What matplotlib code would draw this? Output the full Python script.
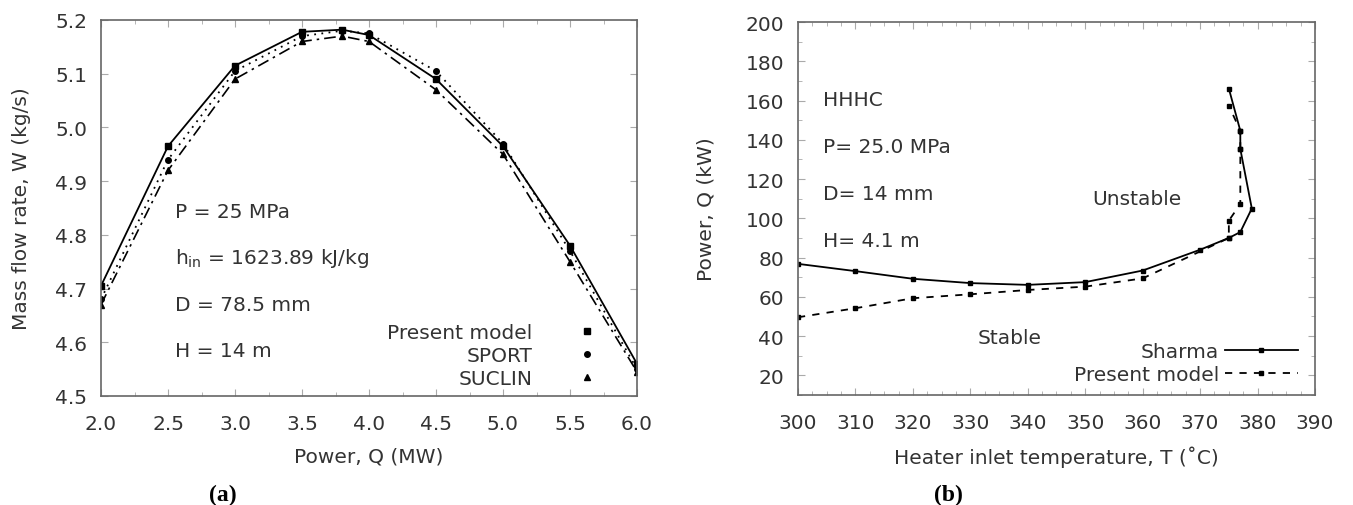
import matplotlib
matplotlib.use("Agg")
import matplotlib.pyplot as plt
from matplotlib.lines import Line2D
from matplotlib.ticker import MultipleLocator, FormatStrFormatter

plt.rcParams['font.family'] = ['DejaVu Sans']

# ---------------- data: panel (a) ----------------
power_mw = [2.0, 2.5, 3.0, 3.5, 3.8, 4.0, 4.5, 5.0, 5.5, 6.0]
w_present = [4.705, 4.965, 5.115, 5.178, 5.182, 5.172, 5.090, 4.965, 4.780, 4.560]
w_sport = [4.680, 4.940, 5.105, 5.170, 5.180, 5.175, 5.105, 4.970, 4.770, 4.550]
w_suclin = [4.670, 4.920, 5.090, 5.160, 5.170, 5.160, 5.070, 4.950, 4.750, 4.545]

a_texts = ["P = 25 MPa", r"h$_{\rm in}$ = 1623.89 kJ/kg", "D = 78.5 mm", "H = 14 m"]
a_series = ["Present model", "SPORT", "SUCLIN"]

# ---------------- data: panel (b) ----------------
t_sharma = [300, 310, 320, 330, 340, 350, 360, 370, 375, 377, 379, 377, 377, 375]
q_sharma = [76.8, 73.1, 69.2, 67.0, 66.1, 67.5, 73.4, 84.0, 90.0, 93.0, 105.0, 135.3, 144.6, 166.1]
t_present = [300, 310, 320, 330, 340, 350, 360, 375, 375, 377, 377, 377, 375]
q_present = [49.6, 54.2, 59.3, 61.3, 63.5, 65.2, 69.4, 90.0, 98.8, 107.3, 135.3, 144.6, 157.4]

b_texts = ["HHHC", "P= 25.0 MPa", "D= 14 mm", "H= 4.1 m"]
b_series = ["Sharma", "Present model"]

FS = 14.5
SP = '#666666'
TC = '#333333'

W, H = 1353, 506
fig = plt.figure(figsize=(W / 100, H / 100), dpi=100)

def frac(x0, x1, y0, y1):
    return [x0 / W, 1 - y1 / H, (x1 - x0) / W, (y1 - y0) / H]

ax1 = fig.add_axes(frac(101, 637, 21, 397))
ax2 = fig.add_axes(frac(798, 1315, 23, 396))

for ax in (ax1, ax2):
    for s in ax.spines.values():
        s.set_color(SP)
        s.set_linewidth(1.2)
    ax.tick_params(which='both', direction='in', top=True, right=True,
                   colors='#aaaaaa', labelcolor=TC, labelsize=FS)
    ax.tick_params(which='major', length=5, width=0.8)
    ax.tick_params(which='minor', length=3, width=0.6)

# ---------- panel (a) ----------
ax1.plot(power_mw, w_present, color='black', lw=1.3, ls='-')
ax1.plot(power_mw, w_sport, color='black', lw=1.3, ls=(0, (1, 3)))
ax1.plot(power_mw, w_suclin, color='black', lw=1.2, ls=(0, (7, 3, 1.5, 3)))
ax1.plot(power_mw, w_present, ls='none', marker='s', ms=4, color='black')
ax1.plot(power_mw, w_sport, ls='none', marker='o', ms=4, color='black')
ax1.plot(power_mw, w_suclin, ls='none', marker='^', ms=4.5, color='black')

ax1.set_xlim(2.0, 6.0)
ax1.set_ylim(4.5, 5.2)
ax1.xaxis.set_major_locator(MultipleLocator(0.5))
ax1.xaxis.set_minor_locator(MultipleLocator(0.25))
ax1.yaxis.set_major_locator(MultipleLocator(0.1))
ax1.xaxis.set_major_formatter(FormatStrFormatter('%.1f'))
ax1.yaxis.set_major_formatter(FormatStrFormatter('%.1f'))
ax1.tick_params(axis='y', pad=10)
ax1.tick_params(axis='x', pad=13)

ax1.set_xlabel("Power, Q (MW)", fontsize=FS, color=TC)
ax1.set_ylabel("Mass flow rate, W (kg/s)", fontsize=FS, color=TC)
ax1.xaxis.label.set_va('center')
ax1.yaxis.label.set_va('center')
ax1.xaxis.set_label_coords(0.5, -(457 - 397) / 376)
ax1.yaxis.set_label_coords(-(101 - 22) / 536, 0.5)

a_ys = [4.844, 4.757, 4.670, 4.584]
for txt, yv in zip(a_texts, a_ys):
    ax1.text(2.55, yv, txt, fontsize=FS, color=TC, ha='left', va='center')

handles_a = [Line2D([], [], ls='none', marker='s', ms=4, color='black'),
             Line2D([], [], ls='none', marker='o', ms=4, color='black'),
             Line2D([], [], ls='none', marker='^', ms=4.5, color='black')]
leg1 = ax1.legend(handles_a, a_series, loc='lower right', bbox_to_anchor=(0.985, -0.012),
                  frameon=False, markerfirst=False, fontsize=FS, handlelength=3.0,
                  handletextpad=1.2, labelspacing=0.2, borderaxespad=0.3,
                  borderpad=0.3)
for t in leg1.get_texts():
    t.set_color(TC)

# ---------- panel (b) ----------
ax2.plot(t_sharma, q_sharma, color='black', lw=1.3, ls='-', marker='s', ms=3.5,
         label=b_series[0])
ax2.plot(t_present, q_present, color='black', lw=1.3, ls=(0, (4, 4)), marker='s', ms=3.5,
         label=b_series[1])
ax2.set_xlim(300, 390)
ax2.set_ylim(10, 200)
ax2.xaxis.set_major_locator(MultipleLocator(10))
ax2.xaxis.set_minor_locator(MultipleLocator(2.5))
ax2.set_yticks(list(range(20, 201, 20)))
ax2.yaxis.set_minor_locator(MultipleLocator(10))
ax2.tick_params(axis='y', pad=10)
ax2.tick_params(axis='x', pad=13)

ax2.set_xlabel("Heater inlet temperature, T (\u02daC)", fontsize=FS, color=TC)
ax2.set_ylabel("Power, Q (kW)", fontsize=FS, color=TC)
ax2.xaxis.label.set_va('center')
ax2.yaxis.label.set_va('center')
ax2.xaxis.set_label_coords(0.5, -(457 - 396) / 373)
ax2.yaxis.set_label_coords(-(798 - 706) / 517, 0.5)

b_ys = [160.4, 136.5, 112.4, 88.6]
for txt, yv in zip(b_texts, b_ys):
    ax2.text(304.4, yv, txt, fontsize=FS, color=TC, ha='left', va='center')
ax2.text(351.2, 110.2, "Unstable", fontsize=FS, color=TC, ha='left', va='center')
ax2.text(331.3, 39.4, "Stable", fontsize=FS, color=TC, ha='left', va='center')

leg2 = ax2.legend(loc='lower right', bbox_to_anchor=(0.99, -0.002), frameon=False,
                  markerfirst=False, fontsize=FS, handlelength=3.6, handletextpad=0.3,
                  labelspacing=0.17, borderaxespad=0.3, borderpad=0.3)
for t in leg2.get_texts():
    t.set_color(TC)

# panel captions
fig.text(223 / W, 1 - 495 / H, "(a)", fontsize=17, fontweight='bold',
         family='Liberation Serif', ha='center', va='center')
fig.text(948 / W, 1 - 495 / H, "(b)", fontsize=17, fontweight='bold',
         family='Liberation Serif', ha='center', va='center')

fig.savefig("out.png", dpi=100)
